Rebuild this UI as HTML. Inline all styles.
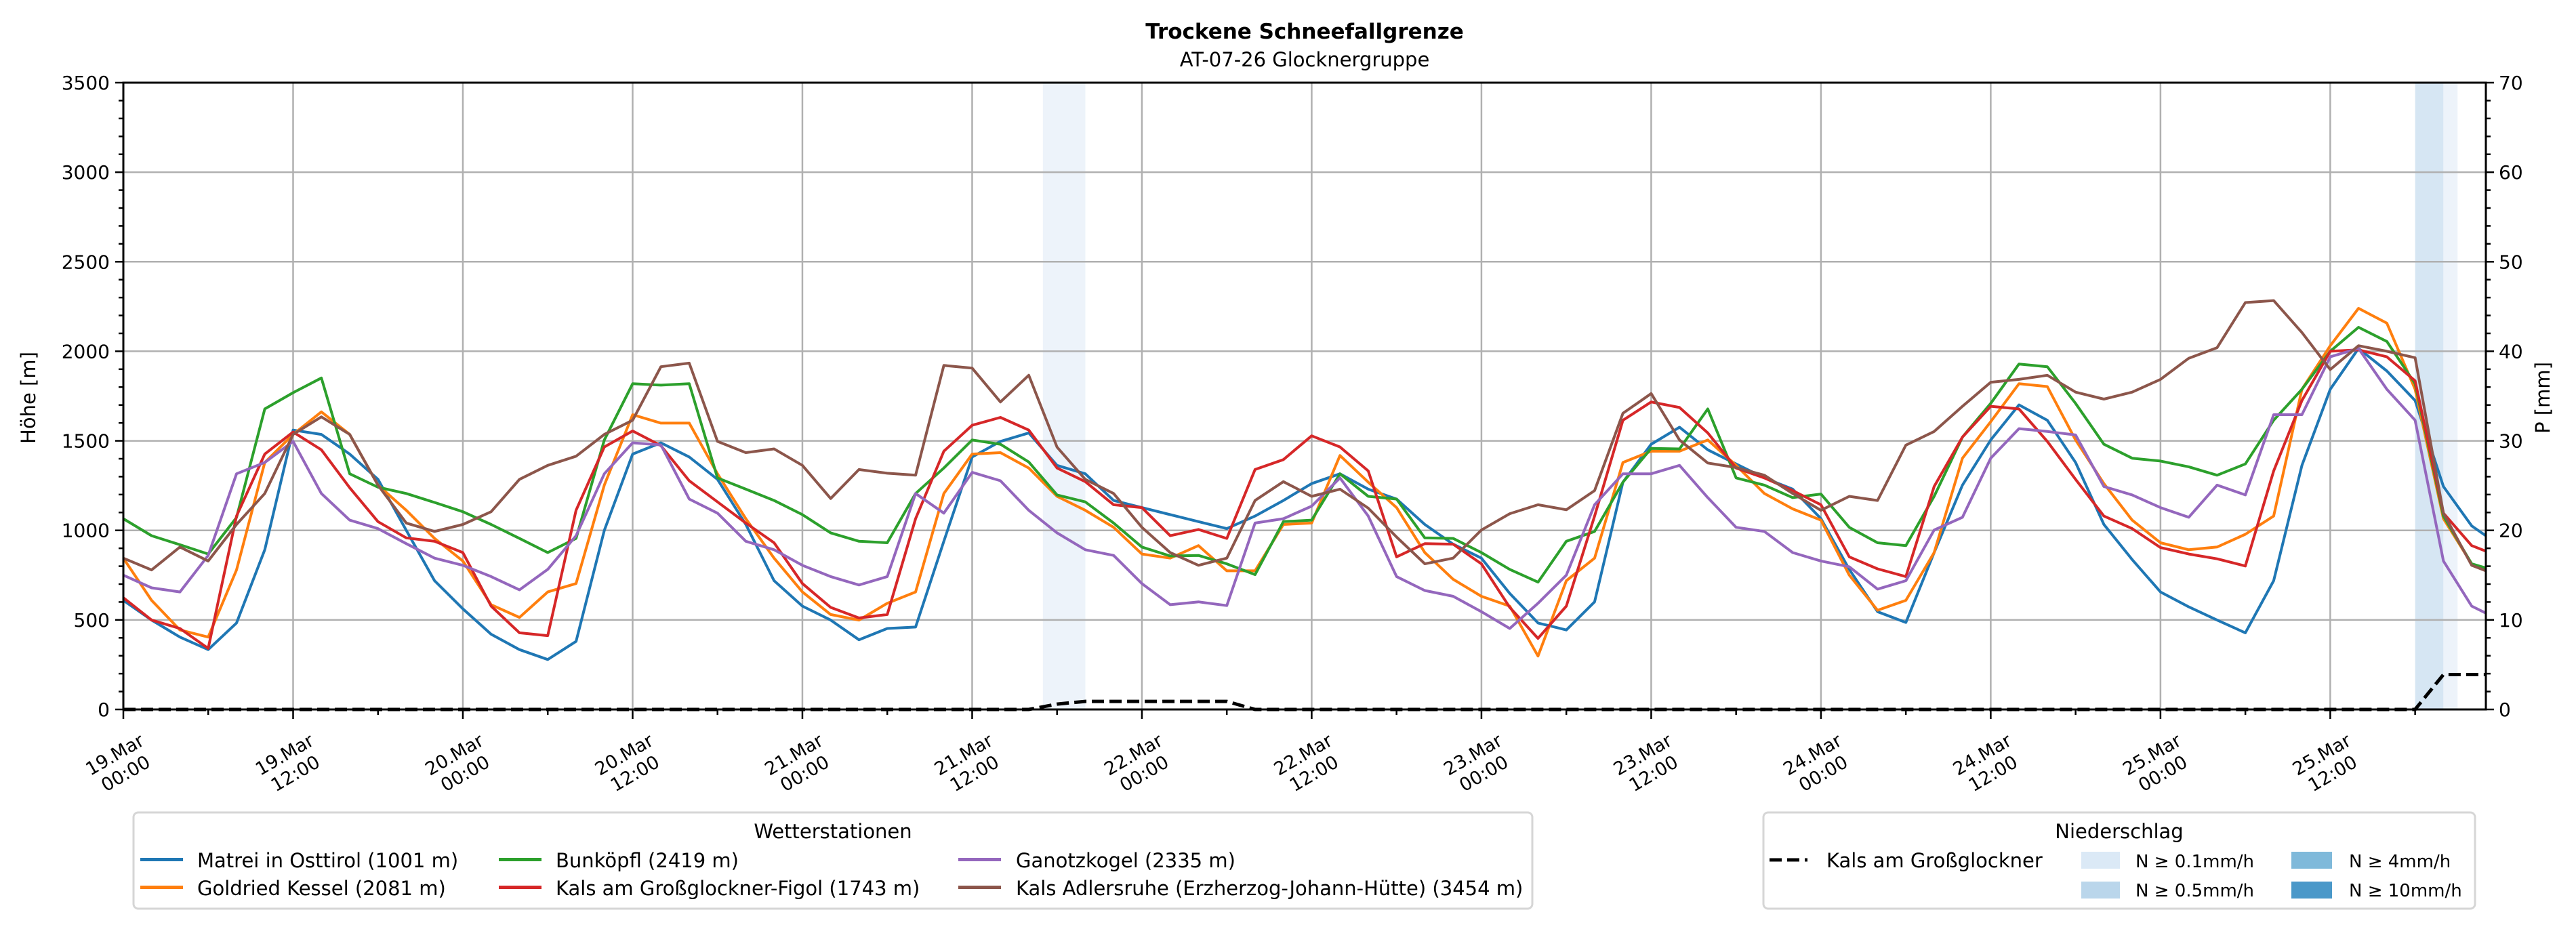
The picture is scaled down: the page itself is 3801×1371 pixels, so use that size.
<!DOCTYPE html>
<html><head><meta charset="utf-8">
<style>
html,body{margin:0;padding:0;background:#fff;}
svg{display:block;font-family:"DejaVu Sans","Liberation Sans",sans-serif;}
</style></head>
<body>
<svg id="chart" width="3801" height="1371" viewBox="0 0 3801 1371" xmlns="http://www.w3.org/2000/svg">
  <text x="1925" y="57" text-anchor="middle" font-size="31" font-weight="bold">Trockene Schneefallgrenze</text>
  <text x="1925" y="98" text-anchor="middle" font-size="29">AT-07-26 Glocknergruppe</text>
  <g id="bands"></g>
  <g id="grid"></g>
  <g id="series"></g>
  <g id="axes"></g>
  <text transform="translate(52,587) rotate(-90)" text-anchor="middle" font-size="29">Höhe [m]</text>
  <text transform="translate(3762,587) rotate(-90)" text-anchor="middle" font-size="29">P [mm]</text>

  <g>
    <rect x="197" y="1199" width="2064" height="142" rx="7" fill="#fff" stroke="#d6d6d6" stroke-width="3"/>
    <text x="1229" y="1237" text-anchor="middle" font-size="29">Wetterstationen</text>
    <g><rect x="207" y="1266" width="63" height="5" fill="#1f77b4"/><text x="291" y="1280" font-size="29">Matrei in Osttirol (1001 m)</text></g>
    <g><rect x="207" y="1307" width="63" height="5" fill="#ff7f0e"/><text x="291" y="1321" font-size="29">Goldried Kessel (2081 m)</text></g>
    <g><rect x="736" y="1266" width="63" height="5" fill="#2ca02c"/><text x="820" y="1280" font-size="29">Bunköpfl (2419 m)</text></g>
    <g><rect x="736" y="1307" width="63" height="5" fill="#d62728"/><text x="820" y="1321" font-size="29">Kals am Großglockner-Figol (1743 m)</text></g>
    <g><rect x="1414" y="1266" width="63" height="5" fill="#9467bd"/><text x="1499" y="1280" font-size="29">Ganotzkogel (2335 m)</text></g>
    <g><rect x="1414" y="1307" width="63" height="5" fill="#8c564b"/><text x="1499" y="1321" font-size="29">Kals Adlersruhe (Erzherzog-Johann-Hütte) (3454 m)</text></g>
  </g>

  <g>
    <rect x="2602" y="1199" width="1050" height="142" rx="7" fill="#fff" stroke="#d6d6d6" stroke-width="3"/>
    <text x="3127" y="1237" text-anchor="middle" font-size="29">Niederschlag</text>
    <g><line x1="2611" y1="1269" x2="2667" y2="1269" stroke="#000" stroke-width="5" stroke-dasharray="18 8"/><text x="2695" y="1280" font-size="29">Kals am Großglockner</text></g>
    <g><rect x="3071" y="1257" width="57" height="25" fill="#dbe9f6"/><text x="3151" y="1280" font-size="26">N ≥ 0.1mm/h</text></g>
    <g><rect x="3071" y="1301" width="57" height="25" fill="#bad6eb"/><text x="3151" y="1323" font-size="26">N ≥ 0.5mm/h</text></g>
    <g><rect x="3381" y="1257" width="60" height="25" fill="#7fb9da"/><text x="3466" y="1280" font-size="26">N ≥ 4mm/h</text></g>
    <g><rect x="3381" y="1301" width="60" height="25" fill="#4a98c9"/><text x="3466" y="1323" font-size="26">N ≥ 10mm/h</text></g>
  </g>
</svg>
<script>
// ---- data ----
const hours = [];
for (let h = 0; h <= 166; h += 2) hours.push(h);
hours.push(167);
const xTickLabels = ["19.Mar|00:00","19.Mar|12:00","20.Mar|00:00","20.Mar|12:00","21.Mar|00:00","21.Mar|12:00","22.Mar|00:00","22.Mar|12:00","23.Mar|00:00","23.Mar|12:00","24.Mar|00:00","24.Mar|12:00","25.Mar|00:00","25.Mar|12:00"];
const yTicks = [0,500,1000,1500,2000,2500,3000,3500];
const y2Ticks = [0,10,20,30,40,50,60,70];
const matrei = [609,499,404,334,483,892,1560,1536,1426,1285,1000,719,562,420,334,279,380,1000,1426,1489,1410,1285,1033,719,577,499,389,452,460,939,1410,1497,1544,1363,1316,1167,1127,1088,1049,1010,1080,1167,1261,1316,1230,1175,1033,923,845,648,483,444,601,1269,1481,1576,1450,1371,1293,1230,1065,782,546,486,876,1253,1505,1701,1615,1379,1033,837,656,573,499,428,719,1363,1788,2016,1890,1725,1245,1025,970];
const goldried = [845,609,444,404,779,1379,1536,1662,1536,1253,1112,955,829,585,514,656,703,1253,1646,1599,1599,1316,1065,845,656,530,499,593,656,1206,1426,1434,1348,1190,1112,1017,868,845,915,774,774,1033,1041,1418,1269,1127,876,727,632,577,298,719,845,1379,1442,1442,1505,1363,1206,1120,1057,750,554,609,876,1403,1607,1819,1803,1505,1261,1057,931,892,907,978,1080,1788,2031,2240,2157,1788,1065,813,774];
const bunkoepfl = [1065,970,920,868,1072,1678,1769,1851,1316,1241,1206,1156,1104,1033,955,876,955,1505,1819,1811,1819,1293,1230,1167,1088,986,939,931,1206,1348,1505,1481,1382,1198,1159,1041,907,857,860,813,753,1049,1057,1316,1190,1175,958,955,876,782,711,939,994,1269,1458,1455,1678,1293,1253,1183,1203,1017,931,915,1190,1521,1709,1929,1914,1709,1481,1403,1387,1355,1308,1371,1615,1788,2000,2134,2055,1819,1080,813,790];
const figol = [624,499,452,341,1080,1426,1549,1450,1238,1049,958,939,876,577,428,412,1112,1466,1555,1473,1277,1159,1041,931,703,570,511,530,1065,1442,1587,1631,1560,1348,1272,1143,1127,970,1005,955,1340,1395,1528,1466,1332,852,926,923,813,570,397,577,1080,1615,1717,1686,1544,1348,1293,1222,1143,852,785,742,1245,1521,1693,1678,1497,1285,1080,1010,904,868,841,801,1332,1725,2000,2008,1969,1835,1096,915,884];
const ganotzkogel = [750,679,656,860,1316,1379,1497,1206,1057,1010,926,845,805,742,668,782,970,1316,1489,1477,1175,1096,939,892,805,742,695,742,1206,1096,1324,1277,1112,986,892,860,703,585,601,580,1041,1065,1135,1293,1080,742,664,632,546,452,593,750,1143,1316,1316,1363,1183,1017,994,876,829,797,672,719,1002,1073,1403,1568,1552,1533,1245,1198,1127,1073,1253,1198,1646,1646,1969,2016,1788,1615,829,577,538];
const adlersruhe = [845,779,907,829,1033,1206,1536,1634,1536,1253,1041,994,1033,1104,1285,1363,1414,1536,1615,1914,1934,1497,1434,1455,1363,1178,1340,1319,1308,1921,1906,1717,1866,1465,1285,1206,1017,876,805,845,1167,1272,1190,1230,1124,963,813,845,1002,1093,1143,1115,1222,1654,1764,1505,1376,1351,1308,1206,1112,1190,1167,1476,1552,1693,1827,1843,1866,1772,1733,1772,1843,1961,2020,2272,2283,2105,1898,2031,2000,1964,1096,805,774];
const precip = [0,0,0,0,0,0,0,0,0,0,0,0,0,0,0,0,0,0,0,0,0,0,0,0,0,0,0,0,0,0,0,0,0,0.6,0.9,0.9,0.9,0.9,0.9,0.9,0,0,0,0,0,0,0,0,0,0,0,0,0,0,0,0,0,0,0,0,0,0,0,0,0,0,0,0,0,0,0,0,0,0,0,0,0,0,0,0,0,0,3.9,3.9,3.9];
const bandStart = [65, 162, 164];
const bandEnd = [68, 164, 165];
const bandLevel = [0, 1, 0];

// ---- layout ----
const L = 182, R = 3668, T = 122, B = 1047, H_MAX = 167;
const xs = h => L + (R - L) * h / H_MAX;
const ys = v => B - (B - T) * v / 3500;
const ys2 = v => B - (B - T) * v / 70;
const NS = "http://www.w3.org/2000/svg";
function mk(tag, attrs, parent) {
  const e = document.createElementNS(NS, tag);
  for (const k in attrs) e.setAttribute(k, attrs[k]);
  parent.appendChild(e);
  return e;
}
const gBands = document.getElementById('bands');
const gGrid = document.getElementById('grid');
const gSeries = document.getElementById('series');
const gAxes = document.getElementById('axes');
const bandColors = ['#edf3fa', '#d6e6f3'];

bandStart.forEach((s, i) => {
  const r = mk('rect', {x: xs(s), y: T, width: xs(bandEnd[i]) - xs(s), height: B - T, fill: bandColors[bandLevel[i]]}, gBands);
  
  
});

yTicks.forEach(v => {
  const l = mk('line', {x1: L, x2: R, y1: ys(v), y2: ys(v), stroke: '#b0b0b0', 'stroke-width': 2.5}, gGrid);
  
  
});
xTickLabels.forEach((lab, i) => {
  const x = xs(i * 12);
  const l = mk('line', {x1: x, x2: x, y1: T, y2: B, stroke: '#b0b0b0', 'stroke-width': 2.5}, gGrid);
  
  
});

const seriesList = [[matrei,'#1f77b4','matrei'],[goldried,'#ff7f0e','goldried'],[bunkoepfl,'#2ca02c','bunkoepfl'],[figol,'#d62728','figol'],[ganotzkogel,'#9467bd','ganotzkogel'],[adlersruhe,'#8c564b','adlersruhe']];
seriesList.forEach(([vals, col, name]) => {
  const pts = vals.map((v, i) => xs(hours[i]).toFixed(1) + ',' + ys(v).toFixed(1)).join(' ');
  const p = mk('polyline', {points: pts, fill: 'none', stroke: col, 'stroke-width': 4, 'stroke-linejoin': 'round'}, gSeries);
  
  
});
const pp = precip.map((v, i) => xs(hours[i]).toFixed(1) + ',' + ys2(v).toFixed(1)).join(' ');
const pl = mk('polyline', {points: pp, fill: 'none', stroke: '#000', 'stroke-width': 5, 'stroke-dasharray': '18 8'}, gSeries);



const fr = mk('rect', {x: L, y: T, width: R - L, height: B - T, fill: 'none', stroke: '#000', 'stroke-width': 3}, gAxes);



for (let v = 0; v <= 3500; v += 100) {
  const major = v % 500 === 0;
  const t = mk('line', {x1: L - (major ? 12 : 7), x2: L, y1: ys(v), y2: ys(v), stroke: '#000', 'stroke-width': 2.5}, gAxes);
  
  
}
yTicks.forEach(v => {
  const t = mk('text', {x: L - 20, y: ys(v) + 10, 'text-anchor': 'end', 'font-size': 28}, gAxes);
  t.textContent = v;
  
  
});
for (let v = 0; v <= 70; v += 2) {
  const major = v % 10 === 0;
  const t = mk('line', {x1: R, x2: R + (major ? 12 : 7), y1: ys2(v), y2: ys2(v), stroke: '#000', 'stroke-width': 2.5}, gAxes);
  
  
}
y2Ticks.forEach(v => {
  const t = mk('text', {x: R + 19, y: ys2(v) + 10, 'text-anchor': 'start', 'font-size': 28}, gAxes);
  t.textContent = v;
  
  
});
for (let h = 0; h <= H_MAX; h += 6) {
  const major = h % 12 === 0;
  const t = mk('line', {x1: xs(h), x2: xs(h), y1: B, y2: B + (major ? 14 : 8), stroke: '#000', 'stroke-width': 2.5}, gAxes);
  
  
}
xTickLabels.forEach((lab, i) => {
  const x = xs(i * 12) - 5;
  const parts = lab.split('|');
  const t = mk('text', {transform: 'translate(' + x + ',1127) rotate(-30)', 'text-anchor': 'middle', 'font-size': 27}, gAxes);
  
  
  const a = mk('tspan', {x: 0, y: -6}, t); a.textContent = parts[0];
  const b = mk('tspan', {x: 0, y: 26}, t); b.textContent = parts[1];
});
</script>
</body></html>
